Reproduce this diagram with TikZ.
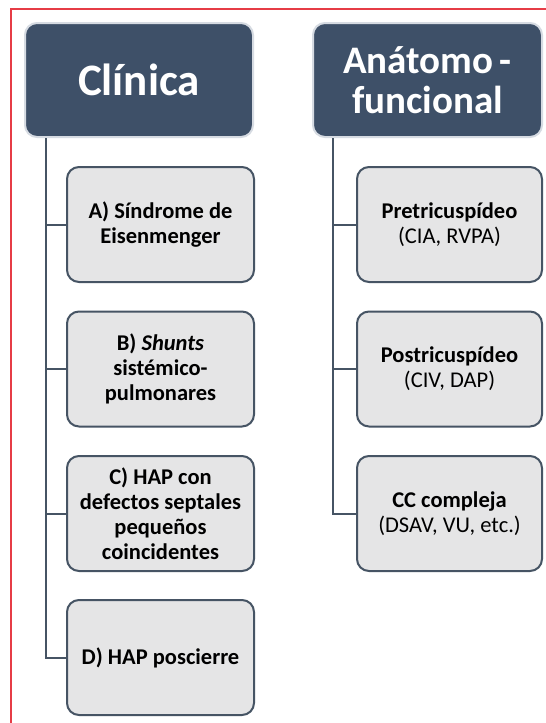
\documentclass[tikz,border=0pt]{standalone}
\usepackage{fontspec}
\setmainfont{Carlito}
\definecolor{hdrfill}{RGB}{62,80,104}
\definecolor{hdrline}{RGB}{214,219,226}
\definecolor{kidfill}{RGB}{229,229,230}
\definecolor{kidline}{RGB}{70,84,100}
\definecolor{framered}{RGB}{230,60,70}
\begin{document}
\begin{tikzpicture}[x=1pt,y=-1pt,
  hdr/.style={draw=hdrline, line width=2pt, fill=hdrfill, rounded corners=12pt,
    text=white, align=center, inner sep=0pt, minimum height=114pt},
  kid/.style={draw=kidline, line width=2pt, fill=kidfill, rounded corners=12pt,
    align=center, inner sep=0pt, minimum width=187pt, minimum height=115pt,
    font=\fontsize{22.5}{25}\selectfont, text=black},
  link/.style={draw=kidline, line width=2pt}]
\useasboundingbox (0,0) rectangle (546,723);
\fill[white] (0,0) rectangle (546,723);
\draw[draw=framered, line width=1.4pt] (11,723) -- (11,9) -- (546,9);

\node[hdr, minimum width=228pt, font=\bfseries\fontsize{45}{45}\selectfont] (cli) at (139,80) {Clínica};
\node[hdr, minimum width=229pt, font=\bfseries\fontsize{39}{40}\selectfont] (ana) at (427.5,80) {Anátomo\,-\\funcional};

\node[kid] (a) at (160.5,224.5) {\textbf{A) Síndrome de}\\\textbf{Eisenmenger}};
\node[kid] (b) at (160.5,369) {\textbf{B) \textit{Shunts}}\\\textbf{sistémico-}\\\textbf{pulmonares}};
\node[kid] (c) at (160.5,513.5) {\textbf{C) HAP con}\\\textbf{defectos septales}\\\textbf{pequeños}\\\textbf{coincidentes}};
\node[kid] (d) at (160.5,657.5) {\textbf{D) HAP poscierre}};

\node[kid, minimum width=185pt] (p1) at (449.5,224.5) {\textbf{Pretricuspídeo}\\(CIA, RVPA)};
\node[kid, minimum width=185pt] (p2) at (449.5,369) {\textbf{Postricuspídeo}\\(CIV, DAP)};
\node[kid, minimum width=185pt] (p3) at (449.5,513.5) {\textbf{CC compleja}\\(DSAV, VU, etc.)};

\coordinate (lx) at (46,0);
\coordinate (rx) at (333,0);
\draw[link] (cli.south -| lx) |- (d.west);
\draw[link] (a.west -| lx) -- (a.west);
\draw[link] (b.west -| lx) -- (b.west);
\draw[link] (c.west -| lx) -- (c.west);
\draw[link] (ana.south -| rx) |- (p3.west);
\draw[link] (p1.west -| rx) -- (p1.west);
\draw[link] (p2.west -| rx) -- (p2.west);
\end{tikzpicture}
\end{document}
